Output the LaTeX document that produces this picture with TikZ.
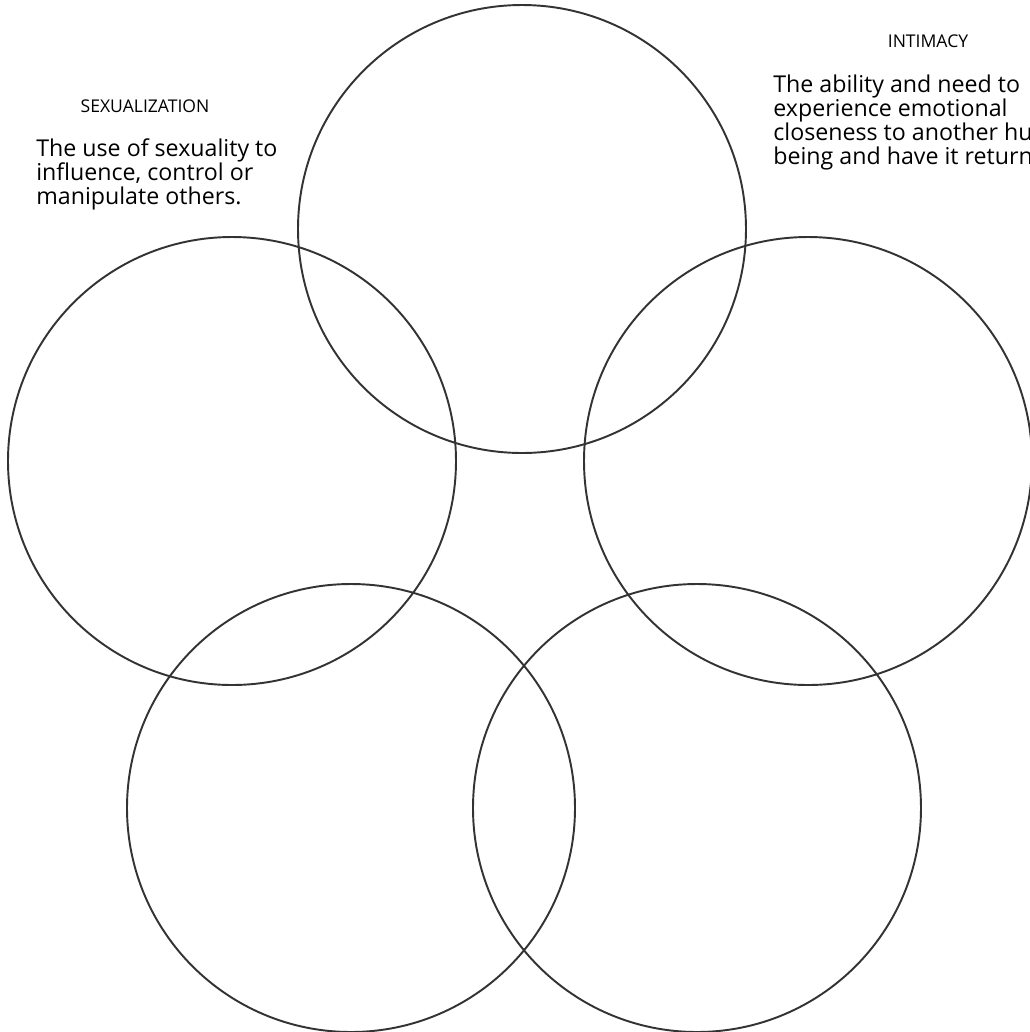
\documentclass[tikz,border=0pt]{standalone}
\usepackage{fontspec}
\setmainfont{Open Sans}
\tikzset{ring/.style={line width=1.1pt, draw=black!80},
         heading/.style={font=\fontsize{10}{12}\selectfont, anchor=base, inner sep=0pt},
         blurb/.style={font=\fontsize{13.2}{13.5}\selectfont, align=left, anchor=base west, inner sep=0pt}}
\begin{document}
\begin{tikzpicture}[x=0.02cm, y=-0.02cm]
                \useasboundingbox (0,0) rectangle (1030,1032);
                \clip (0,0) rectangle (1030,1032);

                \draw[ring] (522,229) circle (224);
                \draw[ring] (232,461) circle (224);
                \draw[ring] (808,461) circle (224);
                \draw[ring] (351,808) circle (224);
                \draw[ring] (697,808) circle (224);

                \node[heading] (sexhead) at (145,112) {SEXUALIZATION};
                \node[blurb] (sextext) at (36,204) {The use of sexuality to\\influence, control or\\manipulate others.};

                \node[heading] (intihead) at (928,47) {INTIMACY};
                \node[blurb] (intitext) at (773,164) {The ability and need to\\experience emotional\\closeness to another human\\being and have it returned.};
            \end{tikzpicture}
\end{document}
